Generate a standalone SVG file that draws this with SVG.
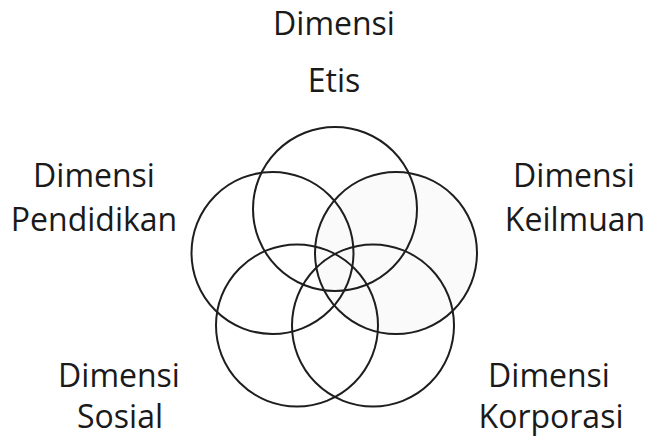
<svg xmlns="http://www.w3.org/2000/svg" width="650" height="438" viewBox="0 0 650 438">
<style>
.c{fill:none;stroke:#1e1e1e;stroke-width:2}
.t{font-family:"Open Sans","Noto Sans",sans-serif;font-size:32px;fill:#1a1a1a;text-anchor:middle}
</style>
<rect width="650" height="438" fill="#fff"/>
<g id="fill-keilmuan"><circle cx="396" cy="253" r="81" fill="#fafafa"/></g>
<g id="etis"><circle class="c" cx="335" cy="209" r="82"/><text class="t" x="334" y="35">Dimensi</text><text class="t" x="334" y="92">Etis</text></g>
<g id="pendidikan"><circle class="c" cx="272.5" cy="253" r="81"/><text class="t" x="94" y="187">Dimensi</text><text class="t" x="94" y="231">Pendidikan</text></g>
<g id="keilmuan"><circle class="c" cx="396" cy="253" r="81"/><text class="t" x="574" y="187">Dimensi</text><text class="t" x="575" y="231">Keilmuan</text></g>
<g id="sosial"><circle class="c" cx="297" cy="325.5" r="81"/><text class="t" x="119" y="387">Dimensi</text><text class="t" x="120" y="428">Sosial</text></g>
<g id="korporasi"><circle class="c" cx="373" cy="325.5" r="81"/><text class="t" x="549" y="387">Dimensi</text><text class="t" x="551" y="428">Korporasi</text></g>
<g id="connectors"></g>
</svg>
